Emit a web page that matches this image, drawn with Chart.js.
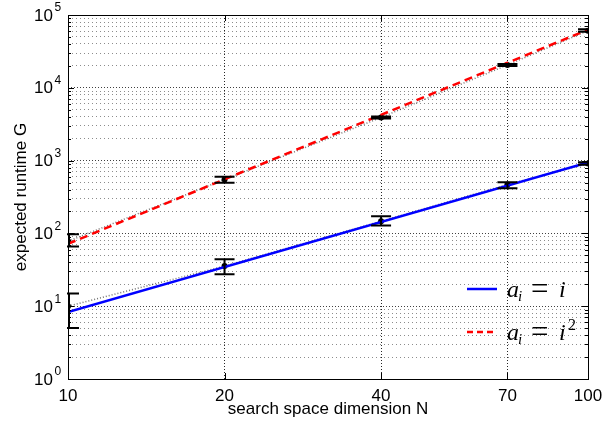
<!DOCTYPE html>
<html>
<head>
<meta charset="utf-8">
<script src="https://cdn.jsdelivr.net/npm/chart.js@4"></script>
<style>
  html, body { margin: 0; padding: 0; background: #fff; }
  canvas { display: block; }
</style>
</head>
<body>
<canvas id="runtimeChart" width="602" height="431"></canvas>
<script>
// search space dimensions and measured runtimes (mean + error bar ends)
const dims = [10, 20, 40, 70, 100];
const linMean = [10, 35.6, 147, 469, 910];
const linLow = [5.0, 27.4, 128, 418, 880];
const linHigh = [15, 44, 172, 505, 950];
const quadMean = [78, 549, 3920, 20600, 61000];
const quadLow = [66, 496, 3800, 19900, 59000];
const quadHigh = [97, 600, 4050, 21300, 63500];

// fitted lines (straight on log-log)
const fitDims = [10, 100];
const linFit = [8.3, 940];
const quadFit = [72, 63000];

const xTicks = [10, 20, 40, 70, 100];
const yDecades = [0, 1, 2, 3, 4, 5];

const sansFont = '"Liberation Sans", Arial, sans-serif';
const serifFont = '"Liberation Serif", "Times New Roman", serif';

const pts = (xs, ys) => xs.map((x, i) => ({ x: x, y: ys[i] }));

// error bars drawn through the chart's scales
const errorBars = {
    id: 'errorBars',
    afterDatasetsDraw(chart) {
        const { ctx, chartArea, scales: { x, y } } = chart;
        ctx.save();
        ctx.beginPath();
        ctx.rect(chartArea.left - 1, chartArea.top, chartArea.right - chartArea.left + 2, chartArea.bottom - chartArea.top);
        ctx.clip();
        ctx.strokeStyle = '#000';
        ctx.lineWidth = 2;
        [[linLow, linHigh], [quadLow, quadHigh]].forEach(([lo, hi]) => {
            dims.forEach((d, i) => {
                let px = x.getPixelForValue(d);
                if (d === dims[0]) px += 1;
                const y1 = y.getPixelForValue(lo[i]);
                const y2 = y.getPixelForValue(hi[i]);
                ctx.beginPath();
                ctx.moveTo(px, y1); ctx.lineTo(px, y2);
                ctx.moveTo(px - 10, y1); ctx.lineTo(px + 10, y1);
                ctx.moveTo(px - 10, y2); ctx.lineTo(px + 10, y2);
                ctx.stroke();
            });
        });
        ctx.restore();
    }
};

// box, inward ticks, tick labels, legend
const frame = {
    id: 'frame',
    afterDraw(chart) {
        const { ctx, chartArea: a, scales: { x, y } } = chart;
        ctx.save();
        ctx.strokeStyle = '#000';
        ctx.lineWidth = 1;
        ctx.strokeRect(Math.round(a.left) + 0.5, Math.round(a.top) + 0.5,
            Math.round(a.right - a.left), Math.round(a.bottom - a.top));

        ctx.beginPath();
        y.ticks.forEach(t => {
            const py = Math.round(y.getPixelForValue(t.value)) + 0.5;
            const len = t.major ? 6 : 3;
            ctx.moveTo(a.left, py); ctx.lineTo(a.left + len, py);
            ctx.moveTo(a.right, py); ctx.lineTo(a.right - len, py);
        });
        xTicks.forEach(v => {
            const px = Math.round(x.getPixelForValue(v)) + 0.5;
            ctx.moveTo(px, a.bottom); ctx.lineTo(px, a.bottom - 6);
            ctx.moveTo(px, a.top); ctx.lineTo(px, a.top + 6);
        });
        ctx.stroke();

        ctx.fillStyle = '#000';
        // x tick labels
        ctx.font = '17px ' + sansFont;
        ctx.textAlign = 'center';
        ctx.textBaseline = 'middle';
        xTicks.forEach(v => {
            ctx.fillText(String(v), x.getPixelForValue(v), a.bottom + 17);
        });

        // y tick labels 10^k
        yDecades.forEach(k => {
            const py = y.getPixelForValue(Math.pow(10, k));
            ctx.font = '17px ' + sansFont;
            ctx.textAlign = 'right';
            ctx.textBaseline = 'middle';
            ctx.fillText('10', 53, py + 1);
            ctx.font = '12px ' + sansFont;
            ctx.textAlign = 'left';
            ctx.fillText(String(k), 54.5, py - 7);
        });

        // legend
        const drawEntry = (yLine, color, dash, sup) => {
            ctx.save();
            ctx.strokeStyle = color;
            ctx.lineWidth = 2.5;
            ctx.setLineDash(dash);
            ctx.beginPath();
            ctx.moveTo(467, yLine); ctx.lineTo(497, yLine);
            ctx.stroke();
            ctx.restore();
            const base = yLine + 8;
            ctx.textAlign = 'left';
            ctx.textBaseline = 'alphabetic';
            ctx.font = 'italic 24px ' + serifFont;
            ctx.fillText('a', 507, base);
            ctx.font = 'italic 15px ' + serifFont;
            ctx.fillText('i', 518, base + 4);
            ctx.font = '31px ' + serifFont;
            ctx.fillText('=', 531, base + 2);
            ctx.font = 'italic 24px ' + serifFont;
            ctx.fillText('i', 559, base);
            if (sup) {
                ctx.font = '16px ' + serifFont;
                ctx.fillText(sup, 568, base - 10);
            }
        };
        drawEntry(289, '#0000ff', [], '');
        drawEntry(332, '#ff0000', [6, 4], '2');
        ctx.restore();
    }
};

const yTickValues = [];
yDecades.forEach(k => {
    for (let m = 1; m <= 9; m++) {
        const v = m * Math.pow(10, k);
        if (v <= 1e5) yTickValues.push(v);
    }
});

new Chart(document.getElementById('runtimeChart'), {
    type: 'line',
    data: {
        datasets: [
            {
                label: 'a_i = i',
                data: pts(fitDims, linFit),
                borderColor: '#0000ff',
                borderWidth: 2.5,
                pointRadius: 0,
                order: 1
            },
            {
                label: 'a_i = i^2',
                data: pts(fitDims, quadFit),
                borderColor: '#ff0000',
                borderWidth: 2.5,
                borderDash: [8, 5],
                pointRadius: 0,
                order: 1
            },
            {
                label: 'linear data',
                data: pts(dims, linMean),
                borderColor: 'rgba(0,0,0,0.55)',
                borderWidth: 1.5,
                borderDash: [1, 2],
                pointRadius: 3,
                pointBackgroundColor: '#000',
                pointBorderWidth: 0,
                order: 2
            },
            {
                label: 'quadratic data',
                data: pts(dims, quadMean),
                borderColor: 'rgba(0,0,0,0.55)',
                borderWidth: 1.5,
                borderDash: [1, 2],
                pointRadius: 3,
                pointBackgroundColor: '#000',
                pointBorderWidth: 0,
                order: 2
            }
        ]
    },
    options: {
        responsive: false,
        animation: false,
        layout: { padding: { top: 15, right: 14, left: 0, bottom: 0 } },
        plugins: { legend: { display: false }, tooltip: { enabled: false } },
        scales: {
            x: {
                type: 'logarithmic',
                min: 10,
                max: 100,
                afterBuildTicks: s => { s.ticks = xTicks.map(v => ({ value: v })); },
                afterFit: s => { s.height = 52; },
                ticks: { display: false },
                grid: {
                    color: 'rgba(0,0,0,0.85)',
                    lineWidth: 1,
                    drawTicks: false
                },
                border: { display: false, dash: [1, 2] },
                title: {
                    display: true,
                    text: 'search space dimension N',
                    color: '#000',
                    font: { family: sansFont, size: 17 },
                    padding: { top: 0, bottom: 11 }
                }
            },
            y: {
                type: 'logarithmic',
                min: 1,
                max: 100000,
                afterBuildTicks: s => {
                    s.ticks = yTickValues.map(v => ({ value: v, major: Math.log10(v) % 1 === 0 }));
                },
                afterFit: s => { s.width = 68; },
                ticks: { display: false },
                grid: {
                    color: ctx => (ctx.tick && ctx.tick.major) ? 'rgba(0,0,0,0.75)' : 'rgba(0,0,0,0.45)',
                    lineWidth: 1,
                    drawTicks: false
                },
                border: {
                    display: false,
                    dash: ctx => (ctx.tick && ctx.tick.major) ? [1, 2] : [1, 3]
                },
                title: {
                    display: true,
                    text: 'expected runtime G',
                    color: '#000',
                    font: { family: sansFont, size: 17 },
                    padding: { top: 11, bottom: 0 }
                }
            }
        }
    },
    plugins: [errorBars, frame]
});
</script>
</body>
</html>
